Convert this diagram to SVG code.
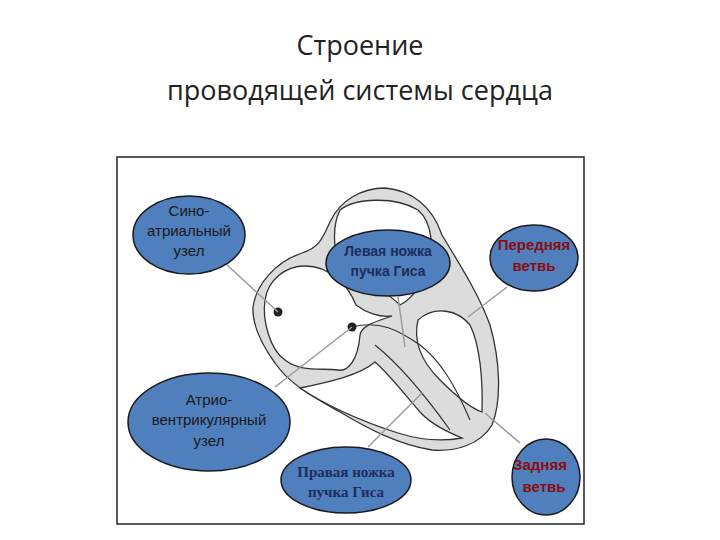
<svg xmlns="http://www.w3.org/2000/svg" width="720" height="540" viewBox="0 0 720 540">
<style>
.t{font-family:"Open Sans","Liberation Sans",sans-serif;font-size:27px;fill:#222;text-anchor:middle}
.bub{fill:#4f7fbd;stroke:#1a1a1a;stroke-width:1.5}
.ln{stroke:#9a9a9a;stroke-width:1.5;fill:none}
.wall{fill:#dcdcdc;stroke:#333;stroke-width:1.3}
.cav{fill:#fff;stroke:#333;stroke-width:1.3}
.a{font-family:"Liberation Sans",Arial,sans-serif;font-size:15px;fill:#1a1a1a;text-anchor:middle}
.nb{font-family:"Liberation Sans",Arial,sans-serif;font-size:14px;font-weight:bold;fill:#1d2d5c;text-anchor:middle}
.ns{font-family:"Liberation Serif","Times New Roman",serif;font-size:15px;font-weight:bold;fill:#1d2d5c;text-anchor:middle}
.r{font-family:"Liberation Sans",Arial,sans-serif;font-size:15px;font-weight:bold;fill:#8b0d0d;text-anchor:middle}
</style>
<rect width="720" height="540" fill="#fff"/>
<text class="t" x="360" y="55">Строение</text>
<text class="t" x="360" y="100">проводящей системы сердца</text>
<rect x="117" y="157" width="467" height="367" fill="#fff" stroke="#222" stroke-width="1.5"/>
<g id="heart">
<path class="wall" d="M253,307 C256,285 275,262 302,253 C318,248 322,240 330,222 C340,200 362,188 385,188 C410,190 432,205 442,235 C458,262 478,292 490,325 C500,360 502,400 492,425 C480,445 455,452 432,450 C400,445 370,430 340,412 C315,398 290,385 275,363 C262,345 252,325 253,307 Z"/>
<path class="cav" d="M265,300 C268,280 285,266 305,266 C330,266 348,285 356,305 C365,312 380,318 392,316 C375,322 362,325 360,335 C358,360 348,372 338,370 C320,368 300,372 285,360 C270,350 262,320 265,300 Z"/>
<path class="cav" d="M340,210 C355,198 395,196 418,210 C432,222 436,250 425,275 C418,290 410,300 400,305 C385,290 360,280 345,275 C335,265 330,230 340,210 Z"/>
<path class="cav" d="M300,388 C330,382 360,375 375,362 C390,375 405,395 420,412 C432,425 448,432 462,438 C440,442 420,440 398,433 C370,424 330,408 300,388 Z"/>
<path class="cav" d="M418,320 C435,305 458,310 470,325 C480,345 483,380 482,412 C470,408 455,395 440,380 C425,365 412,345 418,320 Z"/>
<path d="M352,327 C380,320 398,330 420,345 C440,360 455,385 470,420" fill="none" stroke="#333" stroke-width="1.2"/>
<path d="M375,345 C400,365 425,395 450,430" fill="none" stroke="#333" stroke-width="1.2"/>
<circle cx="278" cy="312" r="4.5" fill="#222"/>
<circle cx="352" cy="327" r="4.5" fill="#222"/>
</g>
<g id="connectors">
<line class="ln" x1="225" y1="263" x2="278" y2="312"/>
<line class="ln" x1="352" y1="327" x2="275" y2="387"/>
<line class="ln" x1="398" y1="297" x2="405" y2="347"/>
<line class="ln" x1="507" y1="287" x2="468" y2="317"/>
<line class="ln" x1="368" y1="447" x2="422" y2="393"/>
<line class="ln" x1="520" y1="443" x2="485" y2="413"/>
</g>
<g id="sino"><ellipse class="bub" cx="189" cy="235" rx="56" ry="39"/>
<text class="a" x="189" y="216">Сино-</text><text class="a" x="189" y="236">атриальный</text><text class="a" x="189" y="256">узел</text></g>
<g id="av"><ellipse class="bub" cx="209" cy="422" rx="81" ry="49"/>
<text class="a" x="209" y="405">Атрио-</text><text class="a" x="209" y="425">вентрикулярный</text><text class="a" x="209" y="446">узел</text></g>
<g id="left"><ellipse class="bub" cx="388" cy="263" rx="62" ry="33"/>
<text class="nb" x="388" y="256">Левая ножка</text><text class="nb" x="388" y="276">пучка Гиса</text></g>
<g id="right"><ellipse class="bub" cx="346" cy="480" rx="65" ry="33"/>
<text class="ns" x="346" y="477">Правая ножка</text><text class="ns" x="346" y="497">пучка Гиса</text></g>
<g id="ant"><ellipse class="bub" cx="534" cy="258" rx="44" ry="33"/>
<text class="r" x="534" y="250">Передняя</text><text class="r" x="534" y="271">ветвь</text></g>
<g id="post"><ellipse class="bub" cx="546" cy="477" rx="34" ry="38"/>
<text class="r" x="540" y="470">Задняя</text><text class="r" x="544" y="492">ветвь</text></g>
</svg>
